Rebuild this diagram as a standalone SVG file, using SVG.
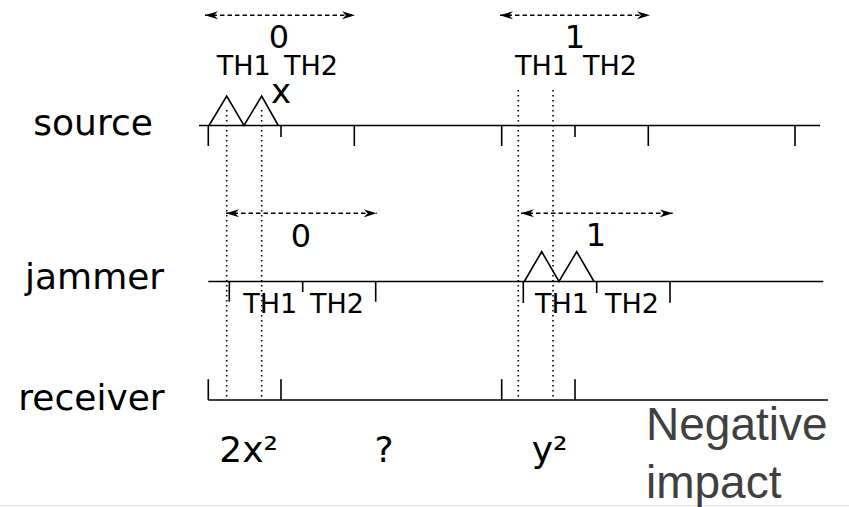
<svg xmlns="http://www.w3.org/2000/svg" width="849" height="507" viewBox="0 0 849 507">
<style>
text{font-family:"DejaVu Sans",sans-serif;fill:#000}
.lbl{font-size:36px}
.num{font-size:32px;text-anchor:middle}
.th{font-size:27px}
.end{text-anchor:end}
.ln{stroke:#000;stroke-width:1.6;fill:none}
.dot{stroke:#000;stroke-width:1.6;stroke-dasharray:1.6 3.4;fill:none}
.dash{stroke:#000;stroke-width:1.4;stroke-dasharray:4.5 3;fill:none;marker-start:url(#ah);marker-end:url(#ah)}
.neg{font-family:"Liberation Sans",Arial,sans-serif;font-size:46px;fill:#404040}
</style>
<defs>
<marker id="ah" markerUnits="userSpaceOnUse" markerWidth="14" markerHeight="10" viewBox="-13 -5 14 10" refX="0" refY="0" orient="auto-start-reverse">
<path d="M0,0 L-13,-4 L-9,0 L-13,4 Z" fill="#000"/>
</marker>
</defs>
<rect width="849" height="507" fill="#fff"/>
<line x1="0" y1="505.5" x2="849" y2="505.5" stroke="#e6e6e6" stroke-width="1"/>

<g id="source">
<text class="lbl" x="33.3" y="135">source</text>
<line class="ln" x1="199" y1="125.5" x2="820" y2="125.5"/>
<path class="ln" d="M208.3,125.5V146 M281,125.5V137 M354.3,125.5V146 M501.7,125.5V146 M575,125.5V137 M648.3,125.5V146 M795,125.5V146"/>
<path class="ln" d="M209,125.5 L226.7,96 L244,125.5 L261.7,96 L278.3,125.5"/>
<text style="font-size:34px" x="271" y="102.7">x</text>
<text class="num" x="279" y="48">0</text>
<text class="th" x="216.7" y="75">TH1</text>
<text class="th end" x="338" y="75">TH2</text>
<text class="num" x="575" y="48">1</text>
<text class="th" x="515" y="75">TH1</text>
<text class="th end" x="637" y="75">TH2</text>
</g>

<g id="jammer">
<text class="lbl" x="25" y="289.3">jammer</text>
<line class="ln" x1="208.3" y1="281.5" x2="823.3" y2="281.5"/>
<path class="ln" d="M229.3,281.5V301.7 M302.7,281.5V292 M375.7,281.5V301.7 M523.3,281.5V303 M596.7,281.5V293 M670,281.5V302.7"/>
<path class="ln" d="M524.3,281.5 L541.7,251.7 L559,281.5 L576.7,251.7 L594,281.5"/>
<text class="num" x="301" y="246.7">0</text>
<text class="th" x="243.3" y="312.7">TH1</text>
<text class="th end" x="364" y="312.7">TH2</text>
<text class="num" x="596" y="246">1</text>
<text class="th" x="535" y="312.7">TH1</text>
<text class="th end" x="659" y="312.7">TH2</text>
</g>

<g id="receiver">
<text class="lbl" x="18.3" y="410">receiver</text>
<line class="ln" x1="208.3" y1="400" x2="828" y2="400"/>
<path class="ln" d="M208.3,400V379.3 M281,400V379.3 M501.7,400V379.3 M575,400V379.3"/>
<text class="lbl" x="219.3" y="461.7">2x²</text>
<text class="lbl" x="384" y="461.7" text-anchor="middle">?</text>
<text class="lbl" x="531.7" y="461.7">y²</text>
<text class="neg" x="646" y="440">Negative</text>
<text class="neg" x="646" y="498">impact</text>
</g>

<g id="connectors">
<line class="dash" x1="205" y1="15.3" x2="355" y2="15.3"/>
<line class="dash" x1="500" y1="15.3" x2="650" y2="15.3"/>
<line class="dash" x1="226" y1="213.3" x2="376.7" y2="213.3"/>
<line class="dash" x1="521" y1="213.3" x2="672.7" y2="213.3"/>
<line class="dot" x1="226.7" y1="110" x2="226.7" y2="397"/>
<line class="dot" x1="261.7" y1="110" x2="261.7" y2="397"/>
<line class="dot" x1="518.3" y1="90" x2="518.3" y2="397"/>
<line class="dot" x1="553" y1="90" x2="553" y2="397"/>
</g>
</svg>
